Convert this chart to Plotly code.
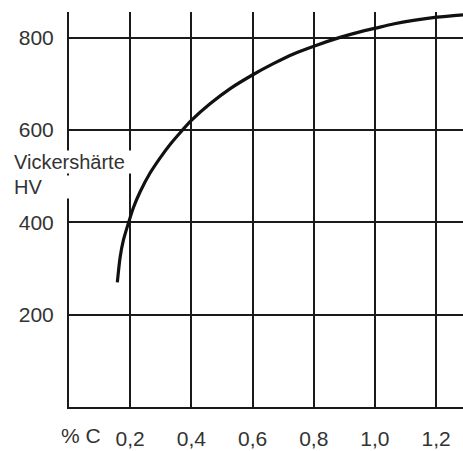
import plotly.graph_objects as go

# Data
carbon = [0.158, 0.167, 0.178, 0.194, 0.211, 0.233, 0.265, 0.298, 0.333, 0.364,
          0.400, 0.461, 0.527, 0.601, 0.668, 0.734, 0.805, 0.886, 0.951, 1.002,
          1.060, 1.126, 1.202, 1.288]
hardness = [270, 324, 362, 398, 433, 467, 507, 540, 571, 595,
            621, 657, 690, 720, 744, 765, 783, 801, 813, 821,
            830, 838, 845, 850]

x_ticks = [0.2, 0.4, 0.6, 0.8, 1.0, 1.2]
x_ticktext = ["0,2", "0,4", "0,6", "0,8", "1,0", "1,2"]
y_ticks = [200, 400, 600, 800]
y_ticktext = ["200", "400", "600", "800"]

FONT = "Liberation Sans, Arial, Helvetica, sans-serif"
TXT = "#333333"
LINE = "#1a1a1a"

fig = go.Figure()
fig.add_trace(go.Scatter(
    x=carbon, y=hardness, mode="lines",
    line=dict(color="#111111", width=3.2, shape="spline", smoothing=0.7),
    hoverinfo="skip", showlegend=False,
))

fig.update_layout(
    width=463, height=451,
    margin=dict(l=69, r=0, t=12, b=44),
    paper_bgcolor="white", plot_bgcolor="white",
    font=dict(family=FONT, size=20, color=TXT),
    showlegend=False,
    xaxis=dict(
        range=[0, 1.288], tickvals=x_ticks, ticktext=x_ticktext,
        showgrid=True, gridcolor=LINE, gridwidth=2,
        showline=True, linecolor=LINE, linewidth=2,
        zeroline=False, ticks="", ticklabelstandoff=12,
        tickfont=dict(family=FONT, size=21, color=TXT),
    ),
    yaxis=dict(
        range=[0, 856], tickvals=y_ticks, ticktext=y_ticktext,
        showgrid=True, gridcolor=LINE, gridwidth=2,
        showline=True, linecolor=LINE, linewidth=2,
        zeroline=False, ticks="", ticklabelstandoff=9,
        tickfont=dict(family=FONT, size=21, color=TXT),
    ),
    annotations=[
        dict(text="Vickershärte", xref="paper", yref="y",
             x=-0.142, y=531, xanchor="left", yanchor="middle",
             showarrow=False, bgcolor="white", borderpad=0,
             width=122, align="left",
             font=dict(family=FONT, size=20, color=TXT)),
        dict(text="HV", xref="paper", yref="y",
             x=-0.142, y=476, xanchor="left", yanchor="middle",
             showarrow=False, bgcolor="white", borderpad=0,
             width=62, align="left",
             font=dict(family=FONT, size=20, color=TXT)),
        dict(text="% C", xref="paper", yref="paper",
             x=0.031, y=0, xanchor="center", yanchor="top", yshift=-15,
             showarrow=False,
             font=dict(family=FONT, size=21, color=TXT)),
    ],
)

fig.write_html("out.html", config={"displayModeBar": False},
               post_script="document.body.style.margin='0';")
